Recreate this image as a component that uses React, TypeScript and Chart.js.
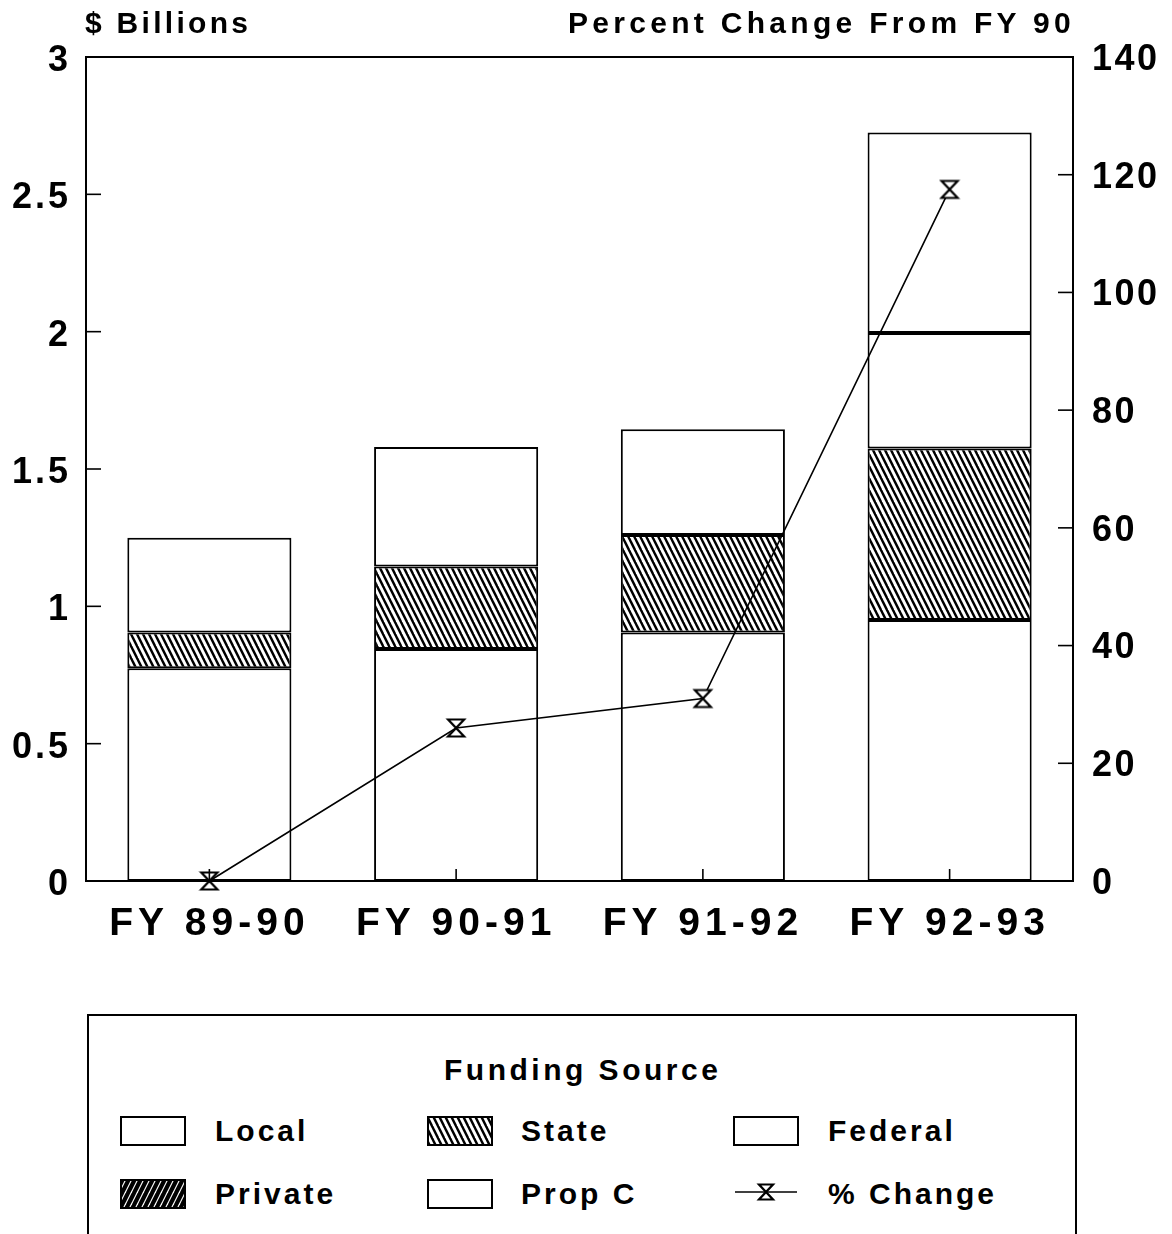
import React, { useEffect, useRef } from 'react';
import { Chart, registerables } from 'chart.js';

Chart.register(...registerables);

// ---------- data ----------
const CATEGORIES = ['FY 89-90', 'FY 90-91', 'FY 91-92', 'FY 92-93'];
const LOCAL = [0.775, 0.845, 0.905, 0.95];
const STATE = [0.13, 0.3, 0.355, 0.625];
const FEDERAL = [0.345, 0.435, 0.385, 0.42];
const PRIVATE = [0, 0, 0, 0];
const PROP_C = [0, 0, 0, 0.73];
const PCT_CHANGE = [0, 26, 31, 117.5];
const LEFT_TICKS = [0, 0.5, 1, 1.5, 2, 2.5, 3];
const RIGHT_TICKS = [0, 20, 40, 60, 80, 100, 120, 140];

const FONT = '"Liberation Sans", Arial, Helvetica, sans-serif';

type HatchKind = 'state' | 'private';

function makeHatch(kind: HatchKind): HTMLCanvasElement {
  const w = 6;
  const h = 12;
  const c = document.createElement('canvas');
  c.width = w;
  c.height = h;
  const g = c.getContext('2d')!;
  if (kind === 'state') {
    g.fillStyle = '#fff';
    g.fillRect(0, 0, w, h);
    g.strokeStyle = '#000';
    g.lineWidth = 2.4;
  } else {
    g.fillStyle = '#000';
    g.fillRect(0, 0, w, h);
    g.strokeStyle = '#fff';
    g.lineWidth = 1.2;
  }
  for (const off of [-w, 0, w]) {
    g.beginPath();
    if (kind === 'state') {
      g.moveTo(off - w / 2, -h / 2);
      g.lineTo(off + 1.5 * w, 1.5 * h);
    } else {
      g.moveTo(off - w / 2, 1.5 * h);
      g.lineTo(off + 1.5 * w, -h / 2);
    }
    g.stroke();
  }
  return c;
}

function drawHourglass(g: CanvasRenderingContext2D, cx: number, cy: number, hw: number, hh: number) {
  g.save();
  g.beginPath();
  g.moveTo(cx - hw, cy - hh);
  g.lineTo(cx + hw, cy - hh);
  g.lineTo(cx - hw, cy + hh);
  g.lineTo(cx + hw, cy + hh);
  g.closePath();
  g.fillStyle = '#fff';
  g.fill();
  g.strokeStyle = '#000';
  g.lineWidth = 2.2;
  g.lineJoin = 'miter';
  g.stroke();
  g.restore();
}

function makeMarker(): HTMLCanvasElement {
  const c = document.createElement('canvas');
  c.width = 22;
  c.height = 22;
  const g = c.getContext('2d')!;
  drawHourglass(g, 11, 11, 8, 8.5);
  return c;
}

const frameAndTicksPlugin = {
  id: 'frameAndTicks',
  afterDraw(chart: any) {
    const { ctx, chartArea: ca, scales } = chart;
    ctx.save();
    ctx.strokeStyle = '#000';
    ctx.lineWidth = 2;
    ctx.strokeRect(ca.left, ca.top, ca.right - ca.left, ca.bottom - ca.top);
    ctx.lineWidth = 1.6;
    const y = scales.y;
    y.ticks.forEach((_t: any, i: number) => {
      const p = y.getPixelForTick(i);
      ctx.beginPath();
      ctx.moveTo(ca.left, p);
      ctx.lineTo(ca.left + 15, p);
      ctx.stroke();
    });
    const y1 = scales.y1;
    y1.ticks.forEach((_t: any, i: number) => {
      const p = y1.getPixelForTick(i);
      ctx.beginPath();
      ctx.moveTo(ca.right, p);
      ctx.lineTo(ca.right - 15, p);
      ctx.stroke();
    });
    const x = scales.x;
    x.ticks.forEach((_t: any, i: number) => {
      const p = x.getPixelForTick(i);
      ctx.beginPath();
      ctx.moveTo(p, ca.bottom);
      ctx.lineTo(p, ca.bottom - 12);
      ctx.stroke();
    });
    ctx.restore();
  },
};

const LABEL_STYLE: Record<string, { spacing: string; dy: number }> = {
  x: { spacing: '5px', dy: 0 },
  y: { spacing: '3px', dy: 4 },
  y1: { spacing: '2.5px', dy: 3 },
};

const spacingPlugin = {
  id: 'letterSpacing',
  afterLayout(chart: any) {
    Object.keys(LABEL_STYLE).forEach((id) => {
      const s = chart.scales[id];
      if (s && !s.__spaced) {
        const orig = s.drawLabels.bind(s);
        s.drawLabels = (area: any) => {
          const c: any = chart.ctx;
          c.save();
          c.letterSpacing = LABEL_STYLE[id].spacing;
          c.translate(0, LABEL_STYLE[id].dy);
          orig(area);
          c.restore();
        };
        s.__spaced = true;
      }
    });
  },
};

function Swatch({ kind, left, top }: { kind: 'white' | HatchKind | 'line'; left: number; top: number }) {
  const ref = useRef<HTMLCanvasElement>(null);
  useEffect(() => {
    const c = ref.current;
    if (!c) return;
    const g = c.getContext('2d')!;
    g.clearRect(0, 0, c.width, c.height);
    if (kind === 'line') {
      g.strokeStyle = '#000';
      g.lineWidth = 1.6;
      g.beginPath();
      g.moveTo(2, 15);
      g.lineTo(64, 15);
      g.stroke();
      drawHourglass(g, 33, 15, 7, 7.5);
    } else {
      if (kind === 'white') {
        g.fillStyle = '#fff';
      } else {
        g.fillStyle = g.createPattern(makeHatch(kind), 'repeat') as CanvasPattern;
      }
      g.fillRect(1, 1, 64, 28);
      g.strokeStyle = '#000';
      g.lineWidth = 2;
      g.strokeRect(1, 1, 64, 28);
    }
  }, [kind]);
  return <canvas ref={ref} width={66} height={30} style={{ position: 'absolute', left, top }} />;
}

const textBase: React.CSSProperties = {
  position: 'absolute',
  fontFamily: FONT,
  fontWeight: 'bold',
  color: '#000',
  whiteSpace: 'nowrap',
  lineHeight: 1,
};

export default function App() {
  const canvasRef = useRef<HTMLCanvasElement>(null);

  useEffect(() => {
    const canvas = canvasRef.current;
    if (!canvas) return;
    const ctx = canvas.getContext('2d')!;
    const statePat = ctx.createPattern(makeHatch('state'), 'repeat');
    const privPat = ctx.createPattern(makeHatch('private'), 'repeat');
    const marker = makeMarker();

    const barBase = {
      borderColor: '#000',
      borderWidth: 2,
      borderSkipped: false,
      yAxisID: 'y',
      order: 1,
      stack: 'funding',
      categoryPercentage: 1,
      barPercentage: 0.665,
    };

    const chart = new Chart(canvas, {
      type: 'bar',
      data: {
        labels: CATEGORIES,
        datasets: [
          {
            type: 'line',
            label: '% Change',
            data: PCT_CHANGE,
            yAxisID: 'y1',
            borderColor: '#000',
            borderWidth: 1.6,
            pointStyle: marker,
            order: 0,
            fill: false,
            tension: 0,
            clip: false,
          } as any,
          { ...barBase, label: 'Local', data: LOCAL, backgroundColor: '#fff' },
          { ...barBase, label: 'State', data: STATE, backgroundColor: statePat },
          { ...barBase, label: 'Federal', data: FEDERAL, backgroundColor: '#fff' },
          { ...barBase, label: 'Private', data: PRIVATE, backgroundColor: privPat },
          { ...barBase, label: 'Prop C', data: PROP_C, backgroundColor: '#fff' },
        ],
      },
      options: {
        animation: false,
        responsive: false,
        layout: { padding: { top: 57, left: 0, right: 0, bottom: 0 } },
        plugins: {
          legend: { display: false },
          tooltip: { enabled: false },
          title: { display: false },
        },
        scales: {
          x: {
            stacked: true,
            grid: { display: false },
            border: { display: false },
            ticks: {
              color: '#000',
              font: { family: FONT, size: 39, weight: 'bold' },
              padding: 12,
              maxRotation: 0,
              autoSkip: false,
            },
            afterFit: (s: any) => {
              s.height = 119;
            },
          },
          y: {
            stacked: true,
            position: 'left',
            min: LEFT_TICKS[0],
            max: LEFT_TICKS[LEFT_TICKS.length - 1],
            grid: { display: false },
            border: { display: false },
            ticks: {
              stepSize: LEFT_TICKS[1] - LEFT_TICKS[0],
              color: '#000',
              font: { family: FONT, size: 36, weight: 'bold' },
              padding: 7,
              callback: (v: any) => String(Number(v)),
            },
            afterFit: (s: any) => {
              s.width = 86;
            },
          },
          y1: {
            position: 'right',
            min: RIGHT_TICKS[0],
            max: RIGHT_TICKS[RIGHT_TICKS.length - 1],
            grid: { display: false },
            border: { display: false },
            ticks: {
              stepSize: RIGHT_TICKS[1] - RIGHT_TICKS[0],
              color: '#000',
              font: { family: FONT, size: 36, weight: 'bold' },
              padding: 11,
              callback: (v: any) => String(Number(v)),
            },
            afterFit: (s: any) => {
              s.width = 99;
            },
          },
        },
      } as any,
      plugins: [spacingPlugin, frameAndTicksPlugin],
    });

    return () => {
      chart.destroy();
    };
  }, []);

  return (
    <div
      style={{
        position: 'absolute',
        left: 0,
        top: 0,
        width: 1172,
        height: 1234,
        overflow: 'hidden',
        background: '#fff',
      }}
    >
      <canvas ref={canvasRef} width={1172} height={1000} style={{ position: 'absolute', left: 0, top: 0 }} />
      <div style={{ ...textBase, left: 85, top: 8, fontSize: 30, letterSpacing: '3.3px' }}>$ Billions</div>
      <div style={{ ...textBase, right: 97, top: 8, fontSize: 30, letterSpacing: '4.3px' }}>
        Percent Change From FY 90
      </div>

      <div
        style={{
          position: 'absolute',
          left: 87,
          top: 1014,
          width: 986,
          height: 300,
          border: '2px solid #000',
          borderBottom: 'none',
        }}
      />
      <div style={{ ...textBase, left: 444, top: 1055, fontSize: 30, letterSpacing: '3.5px' }}>Funding Source</div>

      <Swatch kind="white" left={120} top={1116} />
      <div style={{ ...textBase, left: 215, top: 1116, fontSize: 30, letterSpacing: '3px' }}>Local</div>
      <Swatch kind="state" left={427} top={1116} />
      <div style={{ ...textBase, left: 521, top: 1116, fontSize: 30, letterSpacing: '3px' }}>State</div>
      <Swatch kind="white" left={733} top={1116} />
      <div style={{ ...textBase, left: 828, top: 1116, fontSize: 30, letterSpacing: '3px' }}>Federal</div>

      <Swatch kind="private" left={120} top={1179} />
      <div style={{ ...textBase, left: 215, top: 1179, fontSize: 30, letterSpacing: '3px' }}>Private</div>
      <Swatch kind="white" left={427} top={1179} />
      <div style={{ ...textBase, left: 521, top: 1179, fontSize: 30, letterSpacing: '3px' }}>Prop C</div>
      <Swatch kind="line" left={733} top={1177} />
      <div style={{ ...textBase, left: 828, top: 1179, fontSize: 30, letterSpacing: '3px' }}>% Change</div>
    </div>
  );
}
